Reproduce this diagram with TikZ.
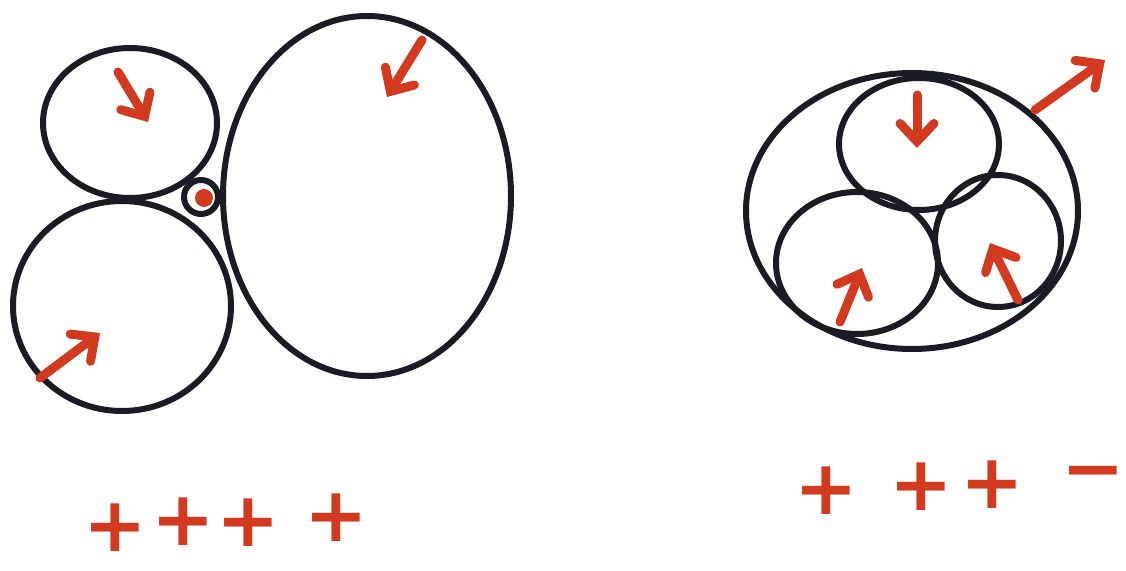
\documentclass[tikz,border=0pt]{standalone}
\usepackage{fontspec}
\usepackage{tikz}
\usetikzlibrary{arrows.meta}
\newfontfamily\signfont{DejaVu Sans}
\definecolor{ink}{HTML}{1B1B26}
\definecolor{marker}{HTML}{D23A1F}

\begin{document}
\begin{tikzpicture}[
  x=0.5pt,y=-0.5pt,
  cell/.style={draw=ink,line width=3pt},
  push/.style={draw=marker,line width=4.5pt,line cap=round,
    -{Straight Barb[length=9pt,width=17pt,line cap=round]}},
  sign/.style={font=\signfont\bfseries\fontsize{38}{38}\selectfont,text=marker,inner sep=0pt}
]
\useasboundingbox (0,0) rectangle (1126,571);

% left group: four cells
\draw[cell] (130,123) ellipse [x radius=87, y radius=75];
\draw[cell] (122,306) ellipse [x radius=109, y radius=105];
\draw[cell] (367,196) ellipse [x radius=144, y radius=180];
\draw[cell] (201,197) circle [radius=17];
\fill[marker] (204,198) circle [radius=9];

\coordinate (tl1) at (118,72);   \coordinate (tl2) at (148,122);
\coordinate (bg1) at (422,40);   \coordinate (bg2) at (387,97);
\coordinate (bl1) at (40,378);   \coordinate (bl2) at (100,333);
\draw[push] (tl1) -- (tl2);
\draw[push] (bg1) -- (bg2);
\draw[push] (bl1) -- (bl2);

% right group: three cells inside a shell
\draw[cell] (912,211) ellipse [x radius=166, y radius=138];
\draw[cell] (919,144) ellipse [x radius=80, y radius=66];
\draw[cell] (857,263) ellipse [x radius=81, y radius=71];
\draw[cell] (998,241) ellipse [x radius=63, y radius=66];

\coordinate (rt1) at (917,95);   \coordinate (rt2) at (917,148);
\coordinate (rl1) at (840,322);  \coordinate (rl2) at (862,268);
\coordinate (rr1) at (1018,300); \coordinate (rr2) at (990,243);
\coordinate (ro1) at (1035,110); \coordinate (ro2) at (1105,60);
\draw[push] (rt1) -- (rt2);
\draw[push] (rl1) -- (rl2);
\draw[push] (rr1) -- (rr2);
\draw[push] (ro1) -- (ro2);

% signs
\node[sign] (p1) at (115,528) {+};
\node[sign] (p2) at (183,522) {+};
\node[sign] (p3) at (248,523) {+};
\node[sign] (p4) at (336,518) {+};
\node[sign] (q1) at (826,491) {+};
\node[sign] (q2) at (921,487) {+};
\node[sign] (q3) at (992,485) {+};
\node[sign] (q4) at (1093,480) {−};
\end{tikzpicture}
\end{document}
